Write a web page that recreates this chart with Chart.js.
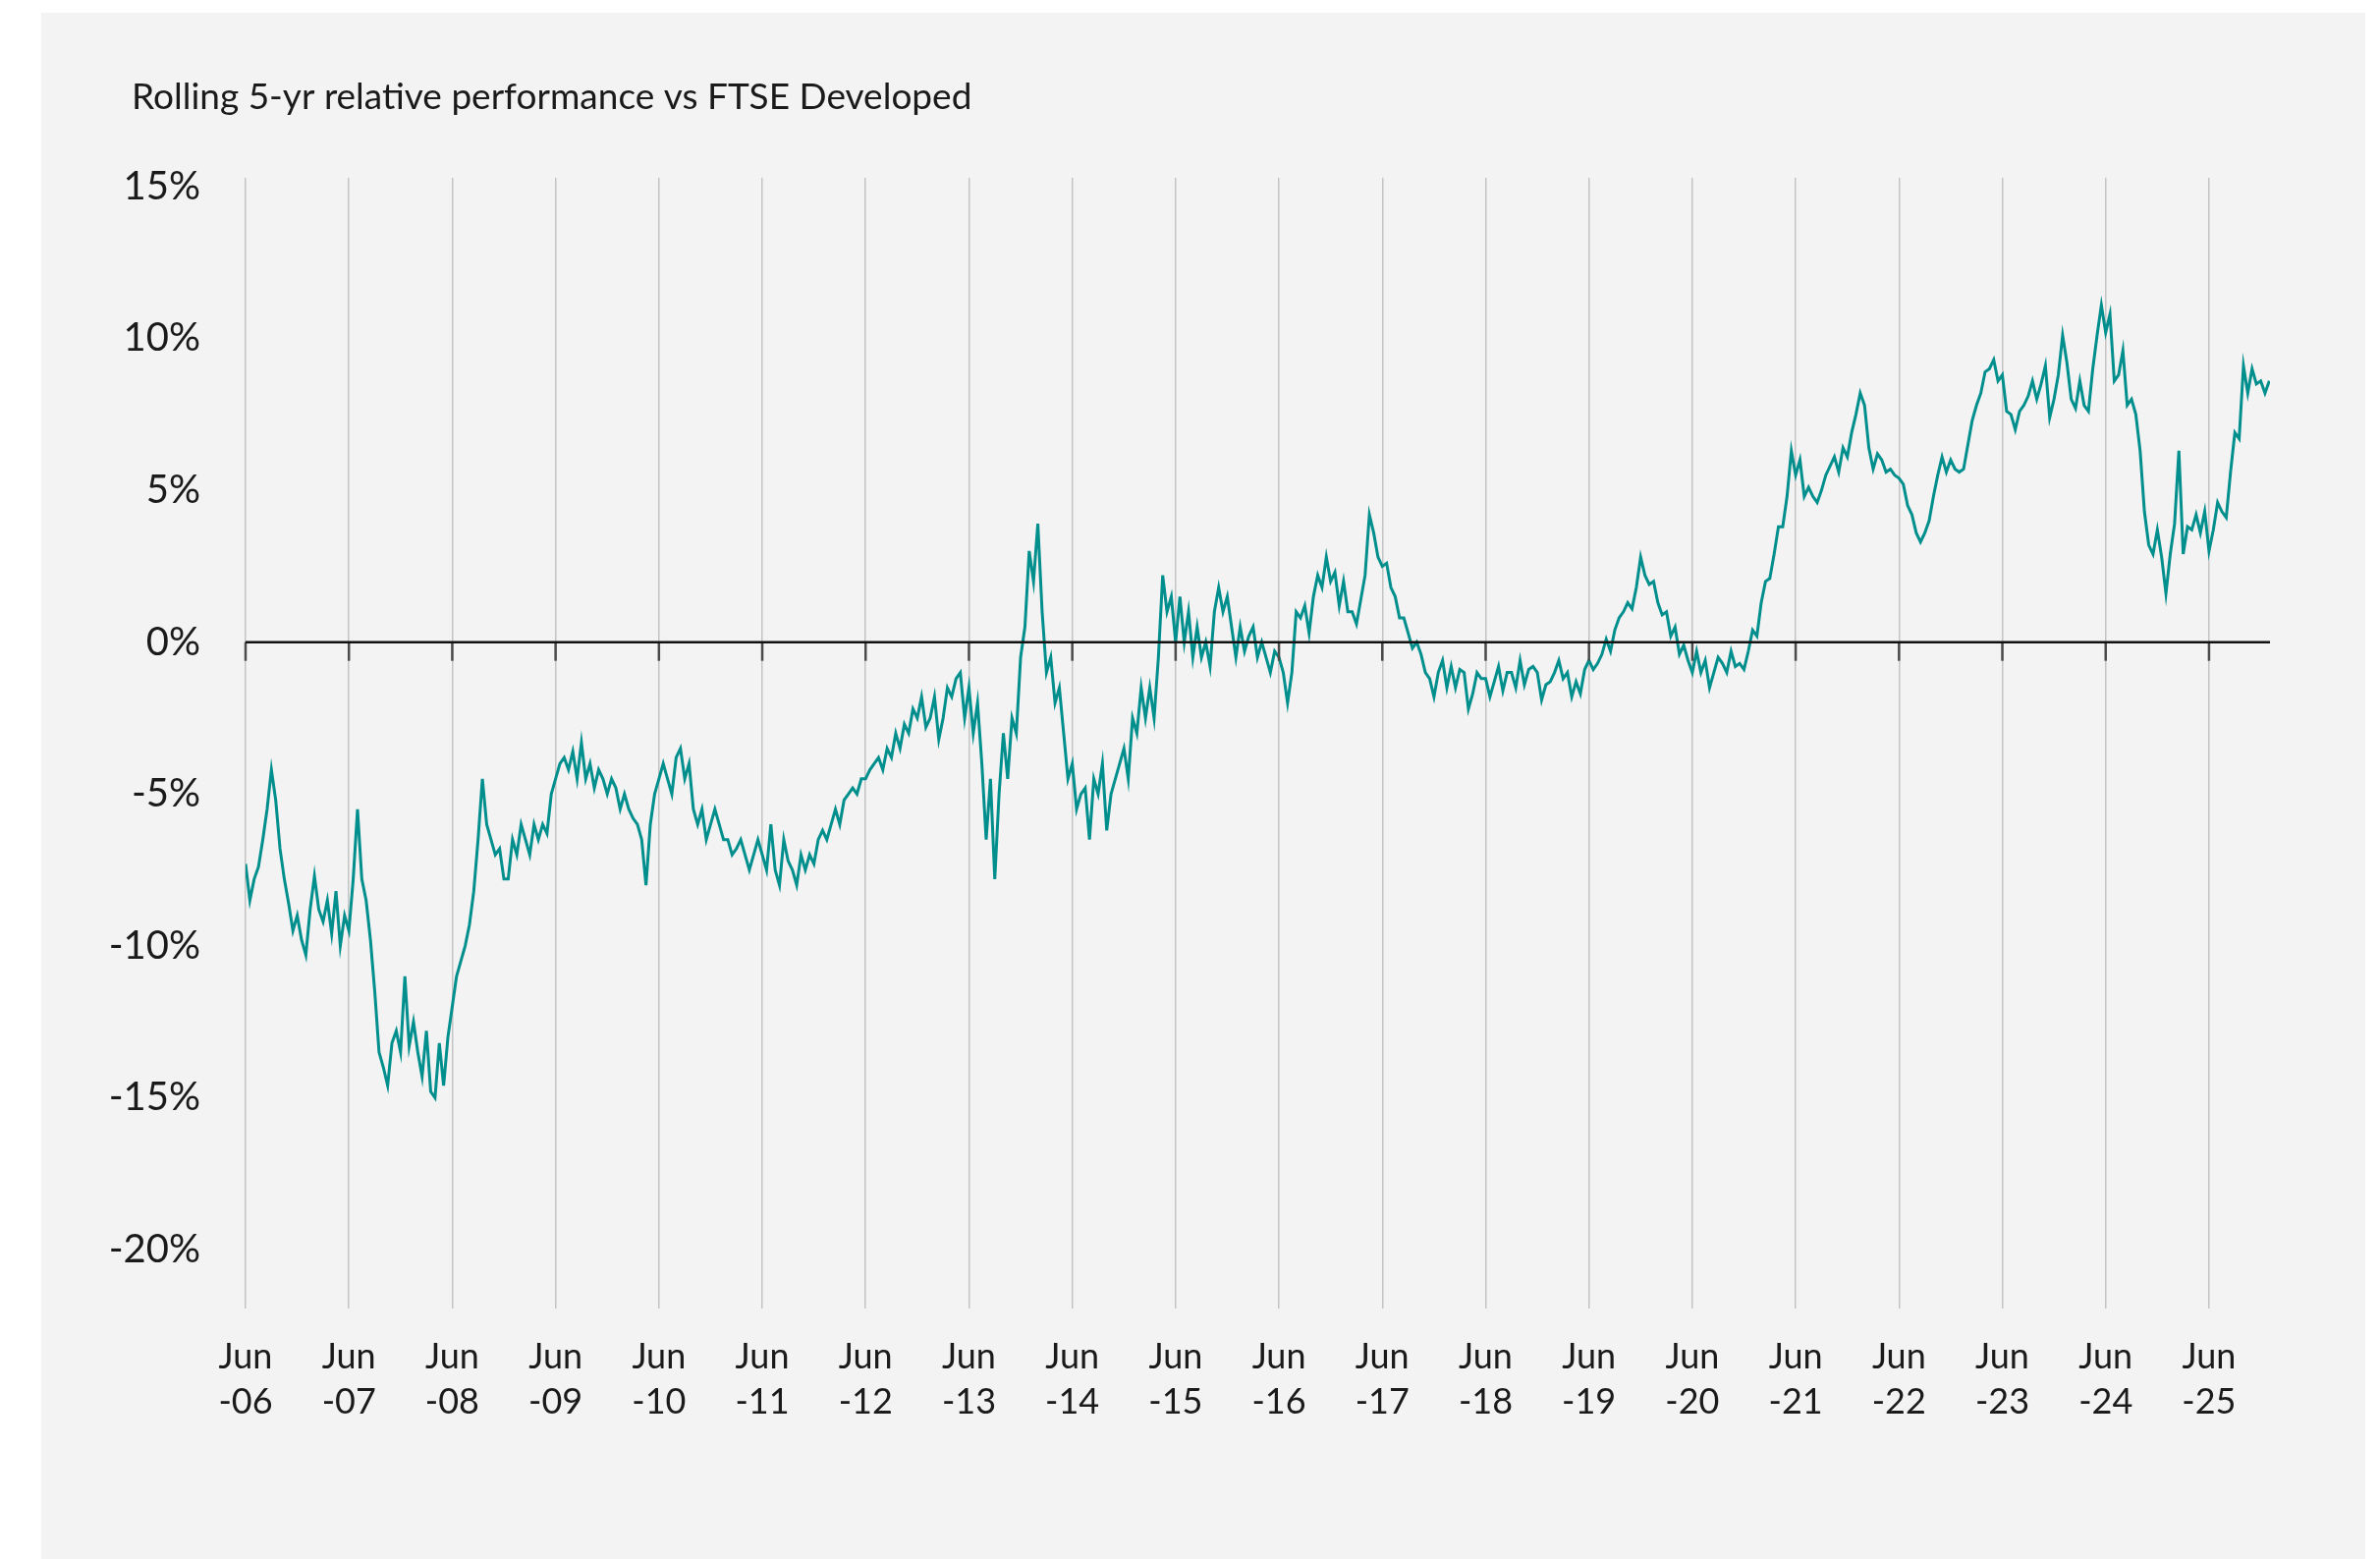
<!DOCTYPE html>
<html>
<head>
<meta charset="utf-8">
<title>Rolling 5-yr relative performance</title>
<script src="https://cdn.jsdelivr.net/npm/chart.js@4.4.0/dist/chart.umd.min.js"></script>
<style>
  html, body { margin: 0; padding: 0; background: #fff; }
  canvas { display: block; }
</style>
</head>
<body>
<canvas id="perfChart" width="2423" height="1587"></canvas>
<script>
// titel + assen
const titleText = 'Rolling 5-yr relative performance vs FTSE Developed';
const yTicks = [-20, -15, -10, -5, 0, 5, 10, 15];
const xTicks = [2006.5, 2007.5, 2008.5, 2009.5, 2010.5, 2011.5, 2012.5, 2013.5, 2014.5, 2015.5,
                2016.5, 2017.5, 2018.5, 2019.5, 2020.5, 2021.5, 2022.5, 2023.5, 2024.5, 2025.5];
const xMin = 2006.5, xMax = 2026.09;
const yMin = -21.94, yMax = 15.29;

// relatieve performance (%), halfmaandelijks, per jaar vanaf juni
const startYear = 2006.5;
const obsPerYear = 24;
const y06 = [-7.3,-8.5,-7.8,-7.4,-6.5,-5.5,-4.2,-5.2,-6.8,-7.8,-8.6,-9.5,-9.0,-9.8,-10.3,-8.8,-7.7,-8.8,-9.2,-8.5,-9.6,-8.2,-10.0,-9.0];
const y07 = [-9.5,-7.8,-5.5,-7.8,-8.5,-9.8,-11.5,-13.5,-14.0,-14.6,-13.2,-12.8,-13.5,-11.0,-13.3,-12.5,-13.5,-14.3,-12.8,-14.8,-15.0,-13.2,-14.6,-13.0];
const y08 = [-12.0,-11.0,-10.5,-10.0,-9.3,-8.2,-6.5,-4.5,-6.0,-6.5,-7.0,-6.8,-7.8,-7.8,-6.5,-7.0,-6.0,-6.5,-7.0,-6.0,-6.5,-6.0,-6.3,-5.0];
const y09 = [-4.5,-4.0,-3.8,-4.2,-3.6,-4.5,-3.3,-4.5,-4.0,-4.8,-4.2,-4.5,-5.0,-4.5,-4.8,-5.5,-5.0,-5.5,-5.8,-6.0,-6.5,-8.0,-6.0,-5.0];
const y10 = [-4.5,-4.0,-4.5,-5.0,-3.8,-3.5,-4.5,-4.0,-5.5,-6.0,-5.5,-6.5,-6.0,-5.5,-6.0,-6.5,-6.5,-7.0,-6.8,-6.5,-7.0,-7.5,-7.0,-6.5];
const y11 = [-7.0,-7.5,-6.0,-7.5,-8.0,-6.5,-7.2,-7.5,-8.0,-7.0,-7.5,-7.0,-7.3,-6.5,-6.2,-6.5,-6.0,-5.5,-6.0,-5.2,-5.0,-4.8,-5.0,-4.5];
const y12 = [-4.5,-4.2,-4.0,-3.8,-4.2,-3.5,-3.8,-3.0,-3.5,-2.7,-3.0,-2.2,-2.5,-1.8,-2.8,-2.5,-1.8,-3.2,-2.5,-1.5,-1.8,-1.2,-1.0,-2.5];
const y13 = [-1.5,-3.0,-2.0,-4.0,-6.5,-4.5,-7.8,-5.0,-3.0,-4.5,-2.5,-3.0,-0.5,0.5,3.0,2.0,3.9,1.0,-1.0,-0.5,-2.0,-1.5,-3.0,-4.5];
const y14 = [-4.0,-5.5,-5.0,-4.8,-6.5,-4.5,-5.0,-4.0,-6.2,-5.0,-4.5,-4.0,-3.5,-4.5,-2.5,-3.0,-1.5,-2.5,-1.5,-2.5,-0.5,2.2,1.0,1.5];
const y15 = [0.0,1.5,0.0,1.0,-0.5,0.5,-0.5,0.0,-0.8,1.0,1.8,1.0,1.5,0.5,-0.5,0.5,-0.3,0.2,0.5,-0.5,0.0,-0.5,-1.0,-0.3];
const y16 = [-0.5,-1.0,-2.0,-1.0,1.0,0.8,1.2,0.3,1.5,2.2,1.8,2.8,2.0,2.3,1.2,2.0,1.0,1.0,0.6,1.4,2.2,4.2,3.6,2.8];
const y17 = [2.5,2.6,1.8,1.5,0.8,0.8,0.3,-0.2,0.0,-0.4,-1.0,-1.2,-1.8,-1.0,-0.6,-1.5,-0.8,-1.5,-0.9,-1.0,-2.2,-1.7,-1.0,-1.2];
const y18 = [-1.2,-1.8,-1.3,-0.8,-1.6,-1.0,-1.0,-1.5,-0.6,-1.4,-0.9,-0.8,-1.0,-1.9,-1.4,-1.3,-1.0,-0.6,-1.2,-1.0,-1.8,-1.3,-1.7,-0.9];
const y19 = [-0.6,-0.9,-0.7,-0.4,0.1,-0.3,0.4,0.8,1.0,1.3,1.1,1.8,2.8,2.2,1.9,2.0,1.3,0.9,1.0,0.2,0.5,-0.4,-0.1,-0.6];
const y20 = [-1.0,-0.3,-1.0,-0.6,-1.5,-1.0,-0.5,-0.7,-1.0,-0.3,-0.8,-0.7,-0.9,-0.3,0.4,0.2,1.3,2.0,2.1,2.9,3.8,3.8,4.8,6.3];
const y21 = [5.5,6.0,4.8,5.1,4.8,4.6,5.0,5.5,5.8,6.1,5.6,6.4,6.1,6.9,7.5,8.2,7.8,6.4,5.7,6.2,6.0,5.6,5.7,5.5];
const y22 = [5.4,5.2,4.5,4.2,3.6,3.3,3.6,4.0,4.8,5.5,6.1,5.6,6.0,5.7,5.6,5.7,6.5,7.3,7.8,8.2,8.9,9.0,9.3,8.6];
const y23 = [8.8,7.6,7.5,7.0,7.6,7.8,8.1,8.6,8.0,8.5,9.1,7.4,8.0,8.8,10.1,9.2,8.0,7.7,8.6,7.8,7.6,9.0,10.1,11.1];
const y24 = [10.2,10.8,8.6,8.8,9.6,7.8,8.0,7.5,6.3,4.3,3.2,2.9,3.7,2.8,1.6,2.9,3.9,6.3,2.9,3.8,3.7,4.2,3.6,4.3];
const y25 = [3.0,3.7,4.6,4.3,4.1,5.6,6.9,6.7,9.1,8.2,9.0,8.5,8.6,8.2,8.6];

const relPerf = [].concat(y06, y07, y08, y09, y10, y11, y12, y13, y14, y15,
                          y16, y17, y18, y19, y20, y21, y22, y23, y24, y25);
const points = relPerf.map((v, i) => ({ x: startYear + i / obsPerYear, y: v }));

// grijs paneel + titel
const panelBackground = {
    id: 'panelBackground',
    beforeDraw(chart) {
        const ctx = chart.ctx;
        ctx.save();
        ctx.fillStyle = '#ffffff';
        ctx.fillRect(0, 0, chart.width, chart.height);
        ctx.fillStyle = '#f3f3f3';
        ctx.fillRect(42, 13, 2366, chart.height - 13);
        ctx.fillStyle = '#1a1a1a';
        ctx.font = '37px Lato';
        ctx.textBaseline = 'alphabetic';
        ctx.fillText(titleText, 134, 111);
        ctx.restore();
    }
};

// nullijn met streepjes naar beneden
const zeroLine = {
    id: 'zeroLine',
    afterDatasetsDraw(chart) {
        const { ctx, chartArea, scales: { x, y } } = chart;
        const y0 = y.getPixelForValue(0);
        ctx.save();
        ctx.strokeStyle = '#4a4a4a';
        ctx.lineWidth = 2.5;
        x.ticks.forEach(t => {
            const px = x.getPixelForValue(t.value);
            ctx.beginPath();
            ctx.moveTo(px, y0);
            ctx.lineTo(px, y0 + 19);
            ctx.stroke();
        });
        ctx.strokeStyle = '#111111';
        ctx.beginPath();
        ctx.moveTo(chartArea.left, y0);
        ctx.lineTo(chartArea.right, y0);
        ctx.stroke();
        ctx.restore();
    }
};

new Chart(document.getElementById('perfChart'), {
    type: 'line',
    data: {
        datasets: [{
            data: points,
            borderColor: '#008f8d',
            borderWidth: 3,
            pointRadius: 0,
            tension: 0,
            fill: false
        }]
    },
    options: {
        responsive: false,
        animation: false,
        devicePixelRatio: 1,
        layout: { padding: { left: 0, right: 112, top: 181, bottom: 0 } },
        plugins: {
            legend: { display: false },
            tooltip: { enabled: false },
            title: { display: false }
        },
        scales: {
            x: {
                type: 'linear',
                min: xMin,
                max: xMax,
                afterBuildTicks: s => { s.ticks = xTicks.map(v => ({ value: v })); },
                afterFit: s => { s.height = 255; },
                grid: { color: '#c4c4c4', lineWidth: 1.5, drawTicks: false },
                border: { display: false },
                ticks: {
                    autoSkip: false,
                    maxRotation: 0,
                    minRotation: 0,
                    padding: 26,
                    color: '#1a1a1a',
                    font: { family: 'Lato', size: 36, lineHeight: 1.28 },
                    callback: v => ['Jun', '-' + String(Math.floor(v) % 100).padStart(2, '0')]
                }
            },
            y: {
                min: yMin,
                max: yMax,
                afterBuildTicks: s => { s.ticks = yTicks.map(v => ({ value: v })); },
                afterFit: s => { s.width = 250; },
                grid: { display: false },
                border: { display: false },
                ticks: {
                    padding: 38,
                    color: '#1a1a1a',
                    font: { family: 'Lato', size: 40 },
                    callback: v => v + '%'
                }
            }
        }
    },
    plugins: [panelBackground, zeroLine]
});
</script>
</body>
</html>
